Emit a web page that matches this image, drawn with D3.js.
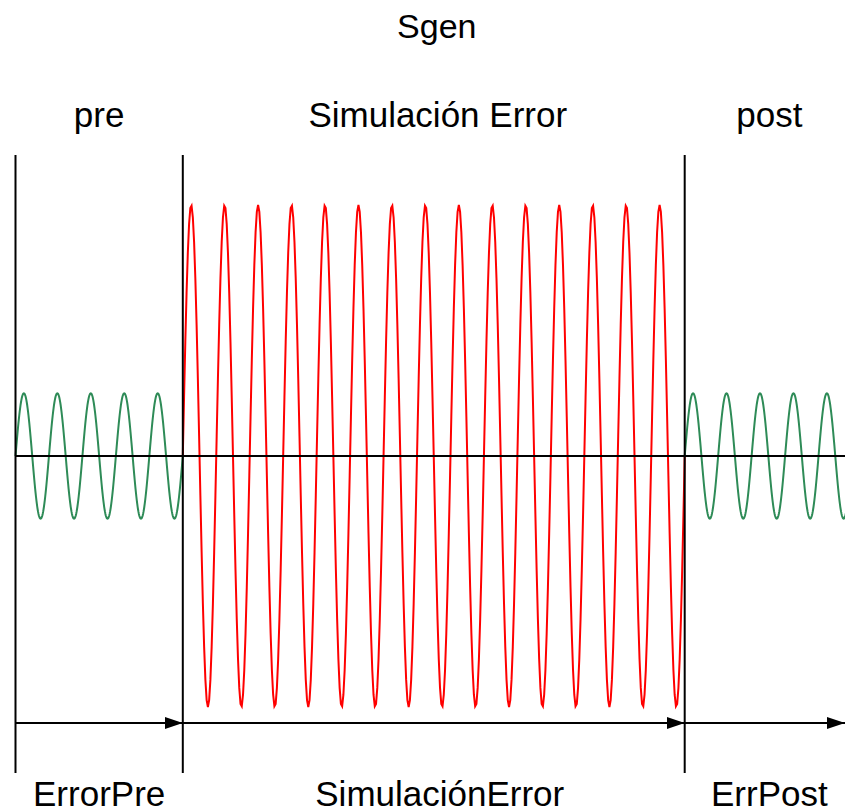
<!DOCTYPE html>
<html>
<head>
<meta charset="utf-8">
<script src="https://cdn.jsdelivr.net/npm/d3@7"></script>
<style>
  html, body { margin: 0; padding: 0; background: #fff; overflow: hidden; }
  text { font-family: "Liberation Sans", Arial, sans-serif; fill: #000; }
</style>
</head>
<body>
<svg id="chart" width="845" height="812"></svg>
<script>
// ---- data ----
const title = "Sgen";
const segmentNames = ["pre", "Simulación Error", "post"];
const bottomLabels = ["ErrorPre", "SimulaciónError", "ErrPost"];
const segmentStart = [0, 5, 20];      // time units (cycles)
const segmentEnd = [5, 20, 25];
const segmentCycles = [5, 15, 5];
const segmentAmplitude = [0.25, 1, 0.25];
const segmentColors = ["#2e8b57", "#ff0000", "#2e8b57"];
const boundaries = [0, 5, 20];

// ---- layout ----
const svg = d3.select("#chart");
const W = 845;
const x = d3.scaleLinear().domain([0, 25]).range([15.5, 852]);
const y = d3.scaleLinear().domain([-1, 1]).range([707, 205]);

const vTop = 155, vBottom = 773, arrowY = 723;
const labelShift = [0, 4, 1];

// defs: arrow marker
svg.append("defs").append("marker")
  .attr("id", "arr")
  .attr("viewBox", "0 0 18 12")
  .attr("refX", 18).attr("refY", 6)
  .attr("markerWidth", 18).attr("markerHeight", 12)
  .attr("markerUnits", "userSpaceOnUse")
  .attr("orient", "auto")
  .append("path").attr("d", "M0,0 L18,6 L0,12 Z").attr("fill", "#000");

// sine curves
const line = d3.line().x(d => x(d[0])).y(d => y(d[1]));
segmentNames.forEach((name, i) => {
  const n = 400;
  const pts = d3.range(n + 1).map(k => {
    const t = segmentStart[i] + (segmentEnd[i] - segmentStart[i]) * k / n;
    const phase = (t - segmentStart[i]) / (segmentEnd[i] - segmentStart[i]) * segmentCycles[i];
    return [t, segmentAmplitude[i] * Math.sin(2 * Math.PI * phase)];
  });
  svg.append("path").datum(pts)
    .attr("d", line)
    .attr("fill", "none")
    .attr("stroke", segmentColors[i])
    .attr("stroke-width", 2);
});

// horizontal axis
svg.append("line")
  .attr("x1", x(0)).attr("x2", W)
  .attr("y1", y(0)).attr("y2", y(0))
  .attr("stroke", "#000").attr("stroke-width", 2);

// vertical boundaries
boundaries.forEach(b => {
  svg.append("line")
    .attr("x1", x(b)).attr("x2", x(b))
    .attr("y1", vTop).attr("y2", vBottom)
    .attr("stroke", "#000").attr("stroke-width", 2);
});

// arrows
segmentStart.forEach((s, i) => {
  const xe = Math.min(x(segmentEnd[i]), W);
  svg.append("line")
    .attr("x1", x(s)).attr("x2", xe)
    .attr("y1", arrowY).attr("y2", arrowY)
    .attr("stroke", "#000").attr("stroke-width", 2)
    .attr("marker-end", "url(#arr)");
});

// texts
svg.append("text").attr("x", x(12.5) + 3).attr("y", 38)
  .attr("text-anchor", "middle").attr("font-size", 34).text(title);

segmentNames.forEach((name, i) => {
  const cx = x((segmentStart[i] + segmentEnd[i]) / 2) + labelShift[i];
  svg.append("text").attr("x", cx).attr("y", 127)
    .attr("text-anchor", "middle").attr("font-size", 35).text(name);
  svg.append("text").attr("x", cx + (i === 1 ? 2 : 0)).attr("y", 806)
    .attr("text-anchor", "middle").attr("font-size", 35).text(bottomLabels[i]);
});
</script>
</body>
</html>
